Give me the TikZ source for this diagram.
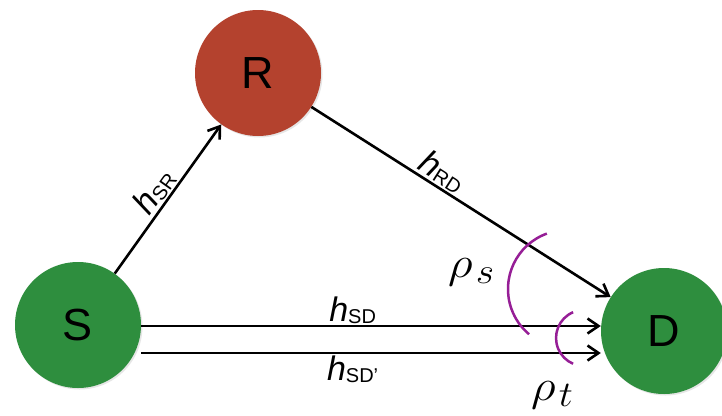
\RequirePackage{fix-cm}
\documentclass[tikz,border=0pt]{standalone}
\usepackage{fontspec}
\setmainfont{Liberation Sans}
\usetikzlibrary{arrows.meta,shadows}
\definecolor{nodegreen}{RGB}{46,142,62}
\definecolor{nodered}{RGB}{180,66,46}
\definecolor{arcpurple}{RGB}{150,30,150}
\DeclareMathSizes{44}{44}{36}{28}
\newcommand{\hlab}[1]{{\fontsize{34}{34}\selectfont\itshape h}\raisebox{-2pt}{\fontsize{20}{20}\selectfont #1}}
\newcommand{\rholab}[1]{\scalebox{1.1}[1]{$\rho_{\kern3pt #1}$}}
\begin{document}
\begin{tikzpicture}[x=1pt,y=-1pt,
  vertex/.style={circle, minimum size=126pt, inner sep=0pt, font=\fontsize{45}{45}\selectfont,
    drop shadow={opacity=0.2, shadow xshift=1.5pt, shadow yshift=-1.5pt}},
  arr/.style={line width=2.6pt, -{Straight Barb[length=11pt,width=15pt,line width=2.6pt]}},
  lab/.style={inner sep=1.5pt},
  rho/.style={inner sep=0pt, anchor=base west, font=\fontsize{44}{44}\selectfont},
  parc/.style={draw=arcpurple, line width=2.5pt}]
\clip (0,0) rectangle (722,415);
\node[vertex, fill=nodegreen] (S) at (78,325) {S};
\node[vertex, fill=nodered] (R) at (258,73) {R};
\node[vertex, fill=nodegreen] (D) at (664,331) {D};
\draw[arr] (S) -- (R) node[lab, sloped, above, pos=0.49] {\hlab{SR}};
\draw[arr] (R) -- (D) node[lab, sloped, above, pos=0.41] {\hlab{RD}};
\coordinate (s1) at ([yshift=-1pt]S.east);
\coordinate (s2) at ([yshift=-28pt]S.east);
\draw[arr] (s1) -- (s1 -| D.west) node[lab, pos=0.46, above] {\hlab{SD}};
\draw[arr] (s2) -- (s2 -| D.west) node[lab, pos=0.46, below] {\hlab{SD’}};
\draw[parc] (546.8,233.6) arc[start angle=-110, end angle=-230, radius=59];
\draw[parc] (573.1,312.2) arc[start angle=-113, end angle=-247, radius=28];
\node[rho] (rs) at (448,277) {\rholab{s}};
\node[rho] (rt) at (531,400) {\rholab{t}};
\end{tikzpicture}
\end{document}
